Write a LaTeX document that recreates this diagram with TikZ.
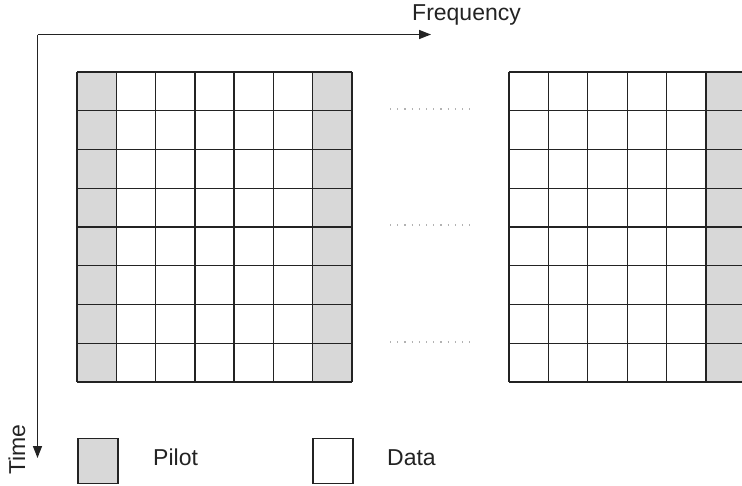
\documentclass[tikz,border=0pt]{standalone}
\usepackage{fontspec}
\setmainfont{Liberation Sans}
\usetikzlibrary{arrows.meta}
\definecolor{pilotgray}{RGB}{216,216,216}
\definecolor{ink}{RGB}{35,35,35}
\tikzset{
  gridline/.style={draw=ink, line width=1.3pt},
  axisline/.style={draw=ink, line width=1.4pt, -{Triangle[length=12pt,width=9pt]}},
  lbl/.style={font=\fontsize{23}{27}\selectfont, inner sep=0pt, text=ink},
  dotline/.style={draw=black!30, line width=1.2pt, dash pattern=on 1.2pt off 6pt},
  pilotcell/.style={fill=pilotgray},
  legendbox/.style={draw=ink, line width=1.1pt, minimum width=40pt, minimum height=45pt, inner sep=0pt}
}
\begin{document}
\begin{tikzpicture}[x=1pt,y=-1pt]
\useasboundingbox (0,0) rectangle (742,485);
% axes
\coordinate (O) at (37.5,34.5);
\coordinate (F) at (431,34.5);
\coordinate (T) at (37.5,458);
\draw[axisline] (O) -- (F);
\draw[axisline] (O) -- (T);
\node[lbl, anchor=base west] (freq) at (412,20) {Frequency};
\node[lbl, anchor=base west, rotate=90] (time) at (25,475) {Time};
% left grid
\def\cw{39.286}
\def\rh{38.75}
\fill[pilotgray] (77,72) rectangle (116.29,382);
\fill[pilotgray] (312.71,72) rectangle (352,382);
\foreach \i in {0,...,7}{
  \draw[gridline] ({77+\i*\cw},72) -- ({77+\i*\cw},382);
}
\foreach \j in {0,...,8}{
  \draw[gridline] (77,{72+\j*\rh}) -- (352,{72+\j*\rh});
}
% right grid
\def\rw{39.4}
\fill[pilotgray] (706,72) rectangle (742,382);
\foreach \i in {0,...,5}{
  \draw[gridline] ({509+\i*\rw},72) -- ({509+\i*\rw},382);
}
\foreach \j in {0,...,8}{
  \draw[gridline] (509,{72+\j*\rh}) -- (742,{72+\j*\rh});
}
% dots between grids
\foreach \y in {109,225,342}{
  \draw[dotline] (390,\y) -- (470,\y);
}
% legend
\node[legendbox, fill=pilotgray] (pilotbox) at (98,461) {};
\node[lbl, anchor=base west] (pilot) at (153,465) {Pilot};
\node[legendbox, fill=white] (databox) at (333,461) {};
\node[lbl, anchor=base west] (data) at (387,465) {Data};
\end{tikzpicture}
\end{document}
